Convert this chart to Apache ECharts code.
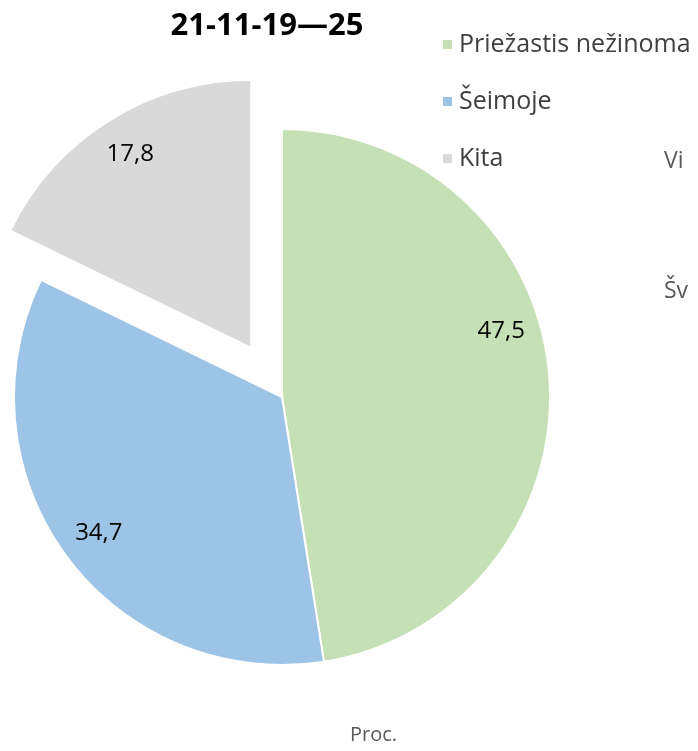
<!DOCTYPE html>
<html>
<head>
<meta charset="utf-8">
<script src="https://cdn.jsdelivr.net/npm/echarts@6/dist/echarts.min.js"></script>
<style>
  html, body { margin: 0; padding: 0; background: #fff; }
  #chart { width: 698px; height: 751px; }
</style>
</head>
<body>
<div id="chart"></div>
<script>
// data
const categories = ['Priežastis nežinoma', 'Šeimoje', 'Kita']
const values = [47.5, 34.7, 17.8]
const colors = ['#C5E0B4', '#9DC3E6', '#D9D9D9']
const exploded = [false, false, true]

const font = '"Open Sans", "Liberation Sans", sans-serif'
const center = [282, 397]
const R = 268

const chart = echarts.init(document.getElementById('chart'))

const pieData = categories.map((name, i) => ({
  name: name,
  value: values[i],
  selected: exploded[i],
  itemStyle: { color: colors[i] }
}))

// label-only ring so the labels sit at ~0.84 r like in the original
const labelData = categories.map((name, i) => {
  const d = {
    name: name,
    value: values[i],
    selected: exploded[i],
    itemStyle: { color: 'rgba(0,0,0,0)' }
  }
  if (i === 0) d.label = { offset: [-8, -48] }
  return d
})

chart.setOption({
  animation: false,
  title: {
    text: '21-11-19\u201425',
    left: 262,
    textAlign: 'center',
    top: 6,
    textStyle: { fontFamily: font, fontSize: 31, fontWeight: 'bold', color: '#000' }
  },
  legend: {
    orient: 'vertical',
    left: 436,
    top: 27,
    itemWidth: 11,
    itemHeight: 11,
    itemGap: 32,
    icon: 'rect',
    data: categories,
    selectedMode: false,
    textStyle: { fontFamily: font, fontSize: 25, lineHeight: 25, color: '#404040', padding: [0, 0, 0, 1] }
  },
  graphic: [
    { type: 'text', left: 664, top: 150, style: { text: 'Vi', font: '23px ' + font, fill: '#595959' } },
    { type: 'text', left: 664, top: 280, style: { text: 'Šv', font: '23px ' + font, fill: '#595959' } },
    { type: 'text', left: 350, top: 725, style: { text: 'Proc.', font: '20px ' + font, fill: '#595959' } }
  ],
  series: [
    {
      type: 'pie',
      center: center,
      radius: R,
      startAngle: 90,
      clockwise: true,
      selectedMode: 'multiple',
      selectedOffset: 58,
      silent: true,
      label: { show: false },
      labelLine: { show: false },
      itemStyle: { borderColor: '#fff', borderWidth: 2 },
      data: pieData
    },
    {
      type: 'pie',
      center: center,
      radius: [182, R],
      startAngle: 90,
      clockwise: true,
      selectedMode: 'multiple',
      selectedOffset: 58,
      silent: true,
      label: {
        show: true,
        position: 'inside',
        fontFamily: font,
        fontSize: 24,
        color: '#000',
        formatter: p => p.value.toFixed(1).replace('.', ',')
      },
      labelLine: { show: false },
      data: labelData
    }
  ]
})
</script>
</body>
</html>
